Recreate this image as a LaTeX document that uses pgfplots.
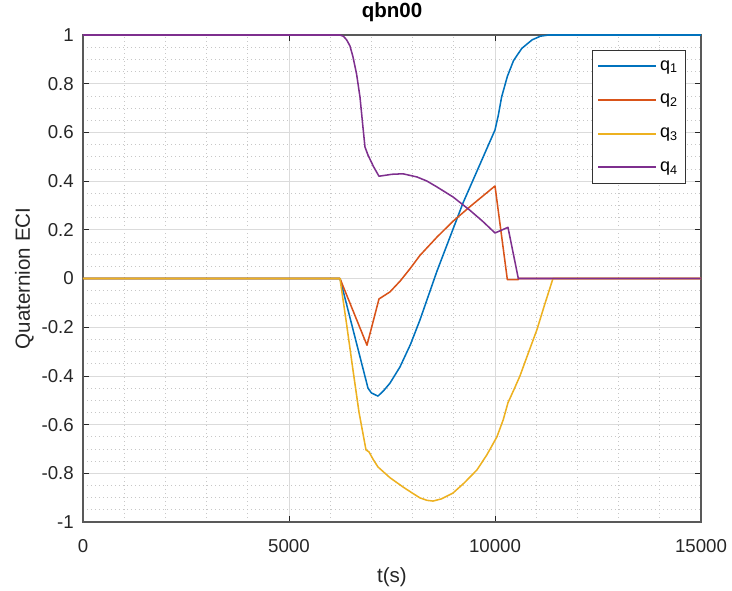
\documentclass[border=0pt]{standalone}
\usepackage{fontspec}
\setmainfont{Liberation Sans}
\usepackage{pgfplots}
\pgfplotsset{compat=1.18}

\definecolor{qone}{rgb}{0,0.447,0.741}
\definecolor{qtwo}{rgb}{0.85,0.325,0.098}
\definecolor{qthree}{rgb}{0.929,0.694,0.125}
\definecolor{qfour}{rgb}{0.494,0.184,0.556}
\definecolor{axgray}{rgb}{0.15,0.15,0.15}

\newcommand{\qlab}[1]{q\textsubscript{#1}\hspace{5pt}}

\begin{document}
\begin{tikzpicture}
\useasboundingbox (-62.25pt,-51pt) rectangle (486.75pt,391.5pt);
\begin{axis}[
  at={(0pt,0pt)}, anchor=south west,
  scale only axis, width=463.5pt, height=365.25pt,
  xmin=0, xmax=15000, ymin=-1, ymax=1,
  xtick={0,5000,10000,15000},
  ytick={-1,-0.8,...,1.01},
  minor x tick num=4, minor y tick num=3,
  scaled x ticks=false,
  /pgf/number format/1000 sep={},
  /pgf/number format/assume math mode=true,
  tick align=inside, major tick length=4.5pt, minor tick length=0pt,
  tick style={axgray, line width=0.6pt},
  axis line style={black!65, line width=0.8pt},
  grid=both,
  major grid style={black!14, line width=0.6pt},
  minor grid style={black!22, line width=0.5pt, dash pattern=on 1pt off 2pt},
  ticklabel style={font=\fontsize{14}{16}\selectfont, text=axgray},
  xticklabel style={anchor=base, inner sep=0pt, yshift=-22.9pt},
  yticklabel style={anchor=east, inner sep=0pt, xshift=-6.75pt},
  title={\textbf{qbn00}},
  title style={at={(0.5,1.0205)}, anchor=base, font=\fontsize{15.4}{18}\selectfont},
  xlabel={t(s)},
  xlabel style={at={(0.5,-0.1232)}, anchor=base, font=\fontsize{15.4}{18}\selectfont, text=axgray},
  ylabel={Quaternion ECI},
  ylabel style={at={(-0.0858,0.5)}, anchor=base, font=\fontsize{15.4}{18}\selectfont, text=axgray},
  legend style={at={(0.9757,0.9692)}, anchor=north east, draw=black!80,
    line width=0.6pt, fill=white, inner xsep=3.75pt, inner ysep=5.5pt,
    row sep=12.5pt, font=\fontsize{13.5}{16}\selectfont},
  legend cell align=left,
  legend image code/.code={\draw[#1, line width=1.6pt] (0pt,0pt) -- (43.5pt,0pt);},
  every axis plot/.append style={line width=1.15pt, line join=round},
]
% q1
\addplot[qone] coordinates {
  (0,0) (6237,0) (6917,-0.45) (7000,-0.47) (7160,-0.483) (7300,-0.46)
  (7450,-0.43) (7694,-0.363) (7950,-0.27) (8179,-0.17) (8591,0.03)
  (9223,0.31) (10000,0.61) (10080,0.67) (10160,0.745) (10300,0.83)
  (10450,0.895) (10650,0.945) (10900,0.98) (11100,0.995) (11300,1.0) (15000,1.0)
};
% q2
\addplot[qtwo] coordinates {
  (0,0) (6237,0) (6893,-0.274) (7184,-0.084) (7451,-0.055) (7700,-0.01)
  (7937,0.04) (8179,0.095) (8591,0.17) (8980,0.235) (9392,0.295) (10000,0.38)
  (10300,-0.005) (10560,-0.005) (10570,0) (15000,0)
};
% q3
\addplot[qthree] coordinates {
  (0,0) (6237,0) (6400,-0.19) (6553,-0.376) (6700,-0.55) (6869,-0.704)
  (6941,-0.712) (7050,-0.745) (7160,-0.774) (7450,-0.818) (7766,-0.856)
  (8000,-0.882) (8179,-0.901) (8350,-0.911) (8495,-0.914) (8700,-0.905)
  (8980,-0.881) (9250,-0.84) (9562,-0.786) (9800,-0.725) (10047,-0.65)
  (10200,-0.58) (10315,-0.51) (10450,-0.46) (10606,-0.40) (10800,-0.31)
  (11018,-0.21) (11200,-0.11) (11407,0) (15000,0)
};
% q4
\addplot[qfour] coordinates {
  (0,1) (6237,1) (6320,0.995) (6399,0.98) (6480,0.955) (6553,0.91)
  (6640,0.84) (6723,0.745) (6790,0.63) (6844,0.54) (6917,0.507)
  (7050,0.46) (7184,0.42) (7500,0.428) (7766,0.43) (8106,0.417)
  (8350,0.4) (8591,0.376) (8980,0.335) (9392,0.28) (9700,0.235)
  (10000,0.187) (10315,0.21) (10566,0) (15000,0)
};
\legend{\qlab{1},\qlab{2},\qlab{3},\qlab{4}}
\end{axis}
\end{tikzpicture}
\end{document}
